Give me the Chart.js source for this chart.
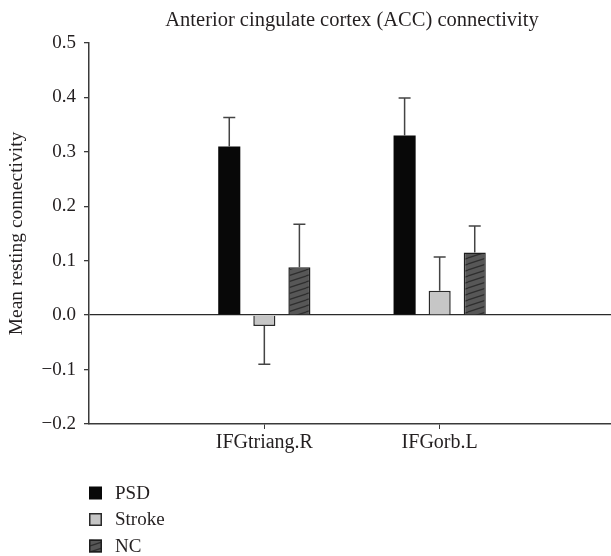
<!DOCTYPE html>
<html>
<head>
<meta charset="utf-8">
<script src="https://cdn.jsdelivr.net/npm/chart.js@4/dist/chart.umd.min.js"></script>
<style>
  html, body { margin: 0; padding: 0; background: #fff; overflow: hidden; }
  #wrap { width: 617px; height: 556px; position: relative; }
</style>
</head>
<body>
<div id="wrap"><canvas id="accChart"></canvas></div>
<script>
// Data
const categories = ['', 'IFGtriang.R', 'IFGorb.L', ''];
const groupNames = ['PSD', 'Stroke', 'NC'];
const psdValues = [null, 0.31, 0.33, null];
const strokeValues = [null, -0.02, 0.045, null];
const ncValues = [null, 0.088, 0.115, null];
const psdErr = [null, 0.053, 0.069, null];
const strokeErr = [null, 0.07, 0.062, null];
const ncErr = [null, 0.079, 0.049, null];
const yTicks = [-0.2, -0.1, 0.0, 0.1, 0.2, 0.3, 0.4, 0.5];

const FONT = '"Liberation Serif", "Times New Roman", serif';
const TEXT = '#231f20';
const AXIS = '#3a3a3a';

// hatched fill for NC
function makeHatch() {
  const c = document.createElement('canvas');
  c.width = 18; c.height = 6;
  const g = c.getContext('2d');
  g.fillStyle = '#575757';
  g.fillRect(0, 0, 18, 6);
  g.strokeStyle = '#2e2e2e';
  g.lineWidth = 1.2;
  for (let k = -1; k <= 1; k++) {
    g.beginPath();
    g.moveTo(0, 6 + 6 * k);
    g.lineTo(18, 6 * k);
    g.stroke();
  }
  return g.createPattern(c, 'repeat');
}
const hatch = makeHatch();

const errors = [psdErr, strokeErr, ncErr];

const errorBars = {
  id: 'errorBars',
  afterDatasetsDraw(chart) {
    const ctx = chart.ctx;
    const y = chart.scales.y;
    ctx.save();
    ctx.strokeStyle = '#444';
    ctx.lineWidth = 1.5;
    chart.data.datasets.forEach((ds, i) => {
      const meta = chart.getDatasetMeta(i);
      meta.data.forEach((bar, j) => {
        const v = ds.data[j];
        const e = errors[i][j];
        if (v == null || e == null) return;
        const end = v >= 0 ? v + e : v - e;
        const y0 = y.getPixelForValue(v);
        const y1 = y.getPixelForValue(end);
        ctx.beginPath();
        ctx.moveTo(bar.x, y0);
        ctx.lineTo(bar.x, y1);
        ctx.moveTo(bar.x - 6, y1);
        ctx.lineTo(bar.x + 6, y1);
        ctx.stroke();
      });
    });
    ctx.restore();
  }
};

// vertical legend under the axis
const sideLegend = {
  id: 'sideLegend',
  afterDraw(chart) {
    const ctx = chart.ctx;
    const left = chart.chartArea.left;
    const base = chart.chartArea.bottom;
    ctx.save();
    ctx.font = '19px ' + FONT;
    ctx.textBaseline = 'middle';
    chart.data.datasets.forEach((ds, i) => {
      const cy = base + 69 + i * 26.5;
      ctx.fillStyle = ds.backgroundColor;
      ctx.fillRect(left, cy - 6.5, 13, 13);
      if (ds.borderWidth) {
        ctx.strokeStyle = ds.borderColor;
        ctx.lineWidth = 1.5;
        ctx.strokeRect(left + 0.75, cy - 5.75, 11.5, 11.5);
      }
      ctx.fillStyle = TEXT;
      ctx.fillText(ds.label, left + 26, cy + 1);
    });
    ctx.restore();
  }
};

new Chart(document.getElementById('accChart'), {
  type: 'bar',
  data: {
    labels: categories,
    datasets: [
      { label: groupNames[0], data: psdValues, backgroundColor: '#080808', borderWidth: 0 },
      { label: groupNames[1], data: strokeValues, backgroundColor: '#c6c6c6', borderColor: '#2a2a2a', borderWidth: 1.5 },
      { label: groupNames[2], data: ncValues, backgroundColor: hatch, borderColor: '#1e1e1e', borderWidth: 1.5 }
    ]
  },
  options: {
    responsive: true,
    maintainAspectRatio: false,
    animation: false,
    categoryPercentage: 0.6,
    barPercentage: 0.63,
    layout: { padding: { left: 0, right: 0, top: 0, bottom: 82 } },
    plugins: {
      legend: { display: false },
      tooltip: { enabled: false },
      title: {
        display: true,
        text: 'Anterior cingulate cortex (ACC) connectivity',
        fullSize: false,
        color: TEXT,
        font: { family: FONT, size: 20.5, weight: 'normal' },
        padding: { top: 8, bottom: 10.4 }
      }
    },
    scales: {
      x: {
        offset: false,
        afterFit: s => { s.height = 50; },
        border: { display: true, color: AXIS, width: 1.5 },
        grid: {
          offset: false,
          drawOnChartArea: false,
          tickLength: 5,
          tickColor: c => (c.tick && c.tick.label) ? AXIS : 'rgba(0,0,0,0)'
        },
        ticks: {
          color: TEXT,
          font: { family: FONT, size: 20 },
          padding: 2,
          maxRotation: 0,
          autoSkip: false
        }
      },
      y: {
        min: -0.2,
        max: 0.5,
        afterFit: s => { s.width = 89; },
        afterBuildTicks: s => { s.ticks = yTicks.map(v => ({ value: v })); },
        border: { display: true, color: AXIS, width: 1.5 },
        grid: {
          tickLength: 5,
          tickColor: AXIS,
          lineWidth: 1.3,
          color: c => (c.tick && Math.abs(c.tick.value) < 1e-9) ? '#2a2a2a' : 'rgba(0,0,0,0)'
        },
        ticks: {
          color: TEXT,
          font: { family: FONT, size: 19 },
          padding: 8,
          callback: v => (v < -1e-9 ? '\u2212' : '') + Math.abs(v).toFixed(1)
        },
        title: {
          display: true,
          text: 'Mean resting connectivity',
          color: TEXT,
          font: { family: FONT, size: 19.5 },
          padding: { top: 5, bottom: 0 }
        }
      }
    }
  },
  plugins: [errorBars, sideLegend]
});
</script>
</body>
</html>
